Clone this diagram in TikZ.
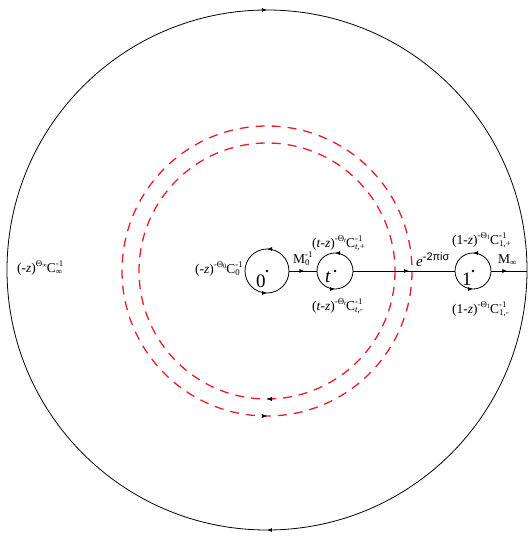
\documentclass[tikz,border=0pt]{standalone}
\usepackage{fontspec}
\setmainfont{Liberation Serif}
\newfontfamily\sansf{Liberation Sans}
\usetikzlibrary{arrows.meta,decorations.markings}
\definecolor{dred}{RGB}{237,28,36}
\newcommand\scr{\fontsize{8.8}{9}\selectfont}
\newcommand\up[1]{\raisebox{5.8pt}{\scr #1}}
\newcommand\lo[1]{\raisebox{-2.8pt}{\scr #1}}
\newcommand\tsub[1]{\raisebox{-1.6pt}{\fontsize{6.5}{7}\selectfont #1}}
\newcommand\ud[2]{{\scr\setbox0=\hbox{#1}\setbox2=\hbox{#2}\dimen0=\wd0 \ifdim\wd2>\dimen0 \dimen0=\wd2\fi\rlap{\raisebox{5.8pt}{\box0}}\rlap{\raisebox{-2.8pt}{\box2}}\hspace*{\dimen0}}}
\begin{document}
\begin{tikzpicture}[x=1pt,y=-1pt,
  lab/.style={inner sep=0pt,font=\fontsize{13.5}{14}\selectfont},
  big/.style={inner sep=0pt,font=\fontsize{19}{20}\selectfont},
  wire/.style={line width=0.8pt,black},
  ring/.style={circle,inner sep=0pt,minimum size=#1},
  fwd/.style={postaction={decorate},decoration={markings,
     mark=at position 0.25 with {\arrow{Latex[length=5pt,width=4pt]}},
     mark=at position 0.75 with {\arrow{Latex[length=5pt,width=4pt]}}}},
  bwd/.style={postaction={decorate},decoration={markings,
     mark=at position 0.25 with {\arrowreversed{Latex[length=5pt,width=4pt]}},
     mark=at position 0.75 with {\arrowreversed{Latex[length=5pt,width=4pt]}}}},
  midarr/.style={postaction={decorate},decoration={markings,
     mark=at position #1 with {\arrow{Latex[length=5pt,width=4pt]}}}},
  reddash/.style={dred,line width=1.3pt,dash pattern=on 9pt off 7pt}
]
\useasboundingbox (0,0) rectangle (531,536);

% centres
\coordinate (O) at (267,270);
\coordinate (Or) at (267,271);
\node[ring=520pt] (bigc) at (O) {};
\node[ring=44pt] (c0) at (267,271) {};
\node[ring=36pt] (ct) at (335,271) {};
\node[ring=36pt] (c1) at (473,271) {};

% big circle
\draw[wire,fwd] (O) circle[radius=260];

% red dashed circles
\draw[reddash] (Or) circle[radius=128];
\draw[reddash] (Or) circle[radius=145];
\path[postaction={decorate},decoration={markings,
   mark=at position 0.25 with {\arrow[black]{Latex[length=5pt,width=4pt]}}}] (Or) circle[radius=128];
\path[postaction={decorate},decoration={markings,
   mark=at position 0.25 with {\arrowreversed[black]{Latex[length=5pt,width=4pt]}}}] (Or) circle[radius=145];

% small circles
\draw[wire,bwd] (c0.center) circle[radius=22];
\draw[wire,bwd] (ct.center) circle[radius=18];
\draw[wire,bwd] (c1.center) circle[radius=18];

% dots
\fill (c0.center) circle[radius=1.4pt];
\fill (ct.center) circle[radius=1.4pt];
\fill (c1.center) circle[radius=1.4pt];

% connectors
\draw[wire,midarr=0.55] (c0.east) -- (ct.west);
\draw[wire,midarr=0.55] (ct.east) -- (c1.west);
\draw[wire,midarr=0.45] (c1.east) -- (c1.east -| bigc.east);

% point labels
\node[big,anchor=base west] (n0) at (256,287) {0};
\node[big,anchor=base west] (nt) at (325,282) {\textit{t}};
\node[big,anchor=base west] (n1) at (462,285) {1};

% text labels
\node[lab,anchor=base east] (L0) at (243,273) {(-\textit{z})\up{-Θ\tsub{0}}C\ud{-1}{0}};
\node[lab,anchor=base west] (M0) at (293,263) {M\ud{-1}{0}};
\node[lab,anchor=base west] (Ltp) at (312,247) {(\textit{t}-\textit{z})\up{-Θ\tsub{\textit{t}}}C\ud{-1}{\textit{t},+}};
\node[lab,anchor=base west] (Ltm) at (312,310) {(\textit{t}-\textit{z})\up{-Θ\tsub{\textit{t}}}C\ud{-1}{\textit{t},-}};
\node[lab,anchor=base west] (E) at (416,266) {\fontsize{15}{16}\selectfont\textit{e}\raisebox{6pt}{\sansf\fontsize{11}{12}\selectfont -2πiσ}};
\node[lab,anchor=base west] (L1p) at (452,244) {(1-\textit{z})\up{-Θ\tsub{1}}C\ud{-1}{1,+}};
\node[lab,anchor=base west] (L1m) at (452,313) {(1-\textit{z})\up{-Θ\tsub{1}}C\ud{-1}{1,-}};
\node[lab,anchor=base west] (Minf) at (498,263) {M\lo{∞}};
\node[lab,anchor=base west] (Linf) at (17,272) {(-\textit{z})\up{Θ\tsub{∞}}C\ud{-1}{∞}};
\end{tikzpicture}
\end{document}
